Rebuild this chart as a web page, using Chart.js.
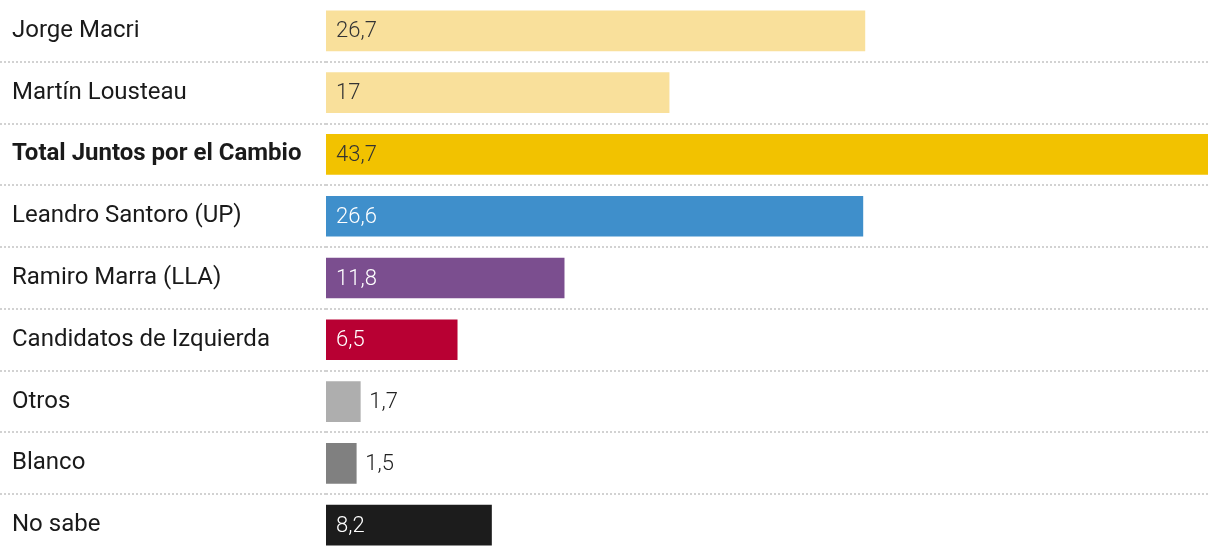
<!DOCTYPE html>
<html>
<head>
<meta charset="utf-8">
<script src="https://cdn.jsdelivr.net/npm/chart.js@4"></script>
<style>
  html, body { margin: 0; padding: 0; background: #fff; }
  #wrap { width: 1220px; height: 556px; position: relative; }
</style>
</head>
<body>
<div id="wrap"><canvas id="myChart"></canvas></div>
<script>
// data
var candidatos = ['Jorge Macri', 'Martín Lousteau', 'Total Juntos por el Cambio', 'Leandro Santoro (UP)',
  'Ramiro Marra (LLA)', 'Candidatos de Izquierda', 'Otros', 'Blanco', 'No sabe'];
var votos = [26.7, 17, 43.7, 26.6, 11.8, 6.5, 1.7, 1.5, 8.2];
var colores = ['#f9e09b', '#f9e09b', '#f2c200', '#3f8fcb', '#7b4e8f', '#b80033', '#aeaeae', '#808080', '#1c1c1c'];
var colorTexto = ['#333', '#333', '#333', '#fff', '#fff', '#fff', '#222', '#222', '#fff'];
var fuera = [false, false, false, false, false, false, true, true, false];

var etiquetas = {
  id: 'etiquetas',
  afterDatasetsDraw: function(chart){
    var ctx = chart.ctx;
    var meta = chart.getDatasetMeta(0);
    ctx.save();
    ctx.font = '300 22px Roboto';
    ctx.textBaseline = 'middle';
    ctx.textAlign = 'left';
    meta.data.forEach(function(bar, i){
      var txt = String(votos[i]).replace('.', ',');
      var x = fuera[i] ? bar.x + 9 : bar.base + 10;
      ctx.fillStyle = colorTexto[i];
      ctx.fillText(txt, x, bar.y + 1);
    });
    ctx.restore();
  }
};

// no line above the first row or below the last one
function colorLinea(c){
  return (c.index === undefined || c.index === 0) ? 'rgba(0,0,0,0)' : '#d2d2d2';
}

var ctx = document.getElementById('myChart').getContext('2d');
var myChart = new Chart(ctx, {
  type: 'bar',
  data: {
    labels: candidatos,
    datasets: [{
      data: votos,
      backgroundColor: colores,
      barThickness: 40,
      borderWidth: 0
    }]
  },
  options: {
    indexAxis: 'y',
    responsive: true,
    maintainAspectRatio: false,
    animation: false,
    layout: { padding: { left: 12, right: 12, top: 0, bottom: 0 } },
    plugins: { legend: { display: false }, tooltip: { enabled: false } },
    scales: {
      x: { display: false, min: 0, max: 43.7 },
      y: {
        border: { display: false, dash: [2, 2] },
        grid: {
          offset: true,
          color: colorLinea,
          tickColor: colorLinea,
          lineWidth: 2,
          tickWidth: 2,
          tickBorderDash: [2, 2],
          tickLength: 326,
          drawTicks: true
        },
        ticks: {
          crossAlign: 'far',
          color: '#1a1a1a',
          padding: 0,
          font: function(c){
            return { family: 'Roboto', size: 24, weight: c.index === 2 ? 'bold' : 'normal' };
          }
        },
        afterFit: function(scale){
          scale.width = 314;
          scale.paddingTop = 0;
          scale.paddingBottom = 0;
        }
      }
    }
  },
  plugins: [etiquetas]
});
</script>
</body>
</html>
